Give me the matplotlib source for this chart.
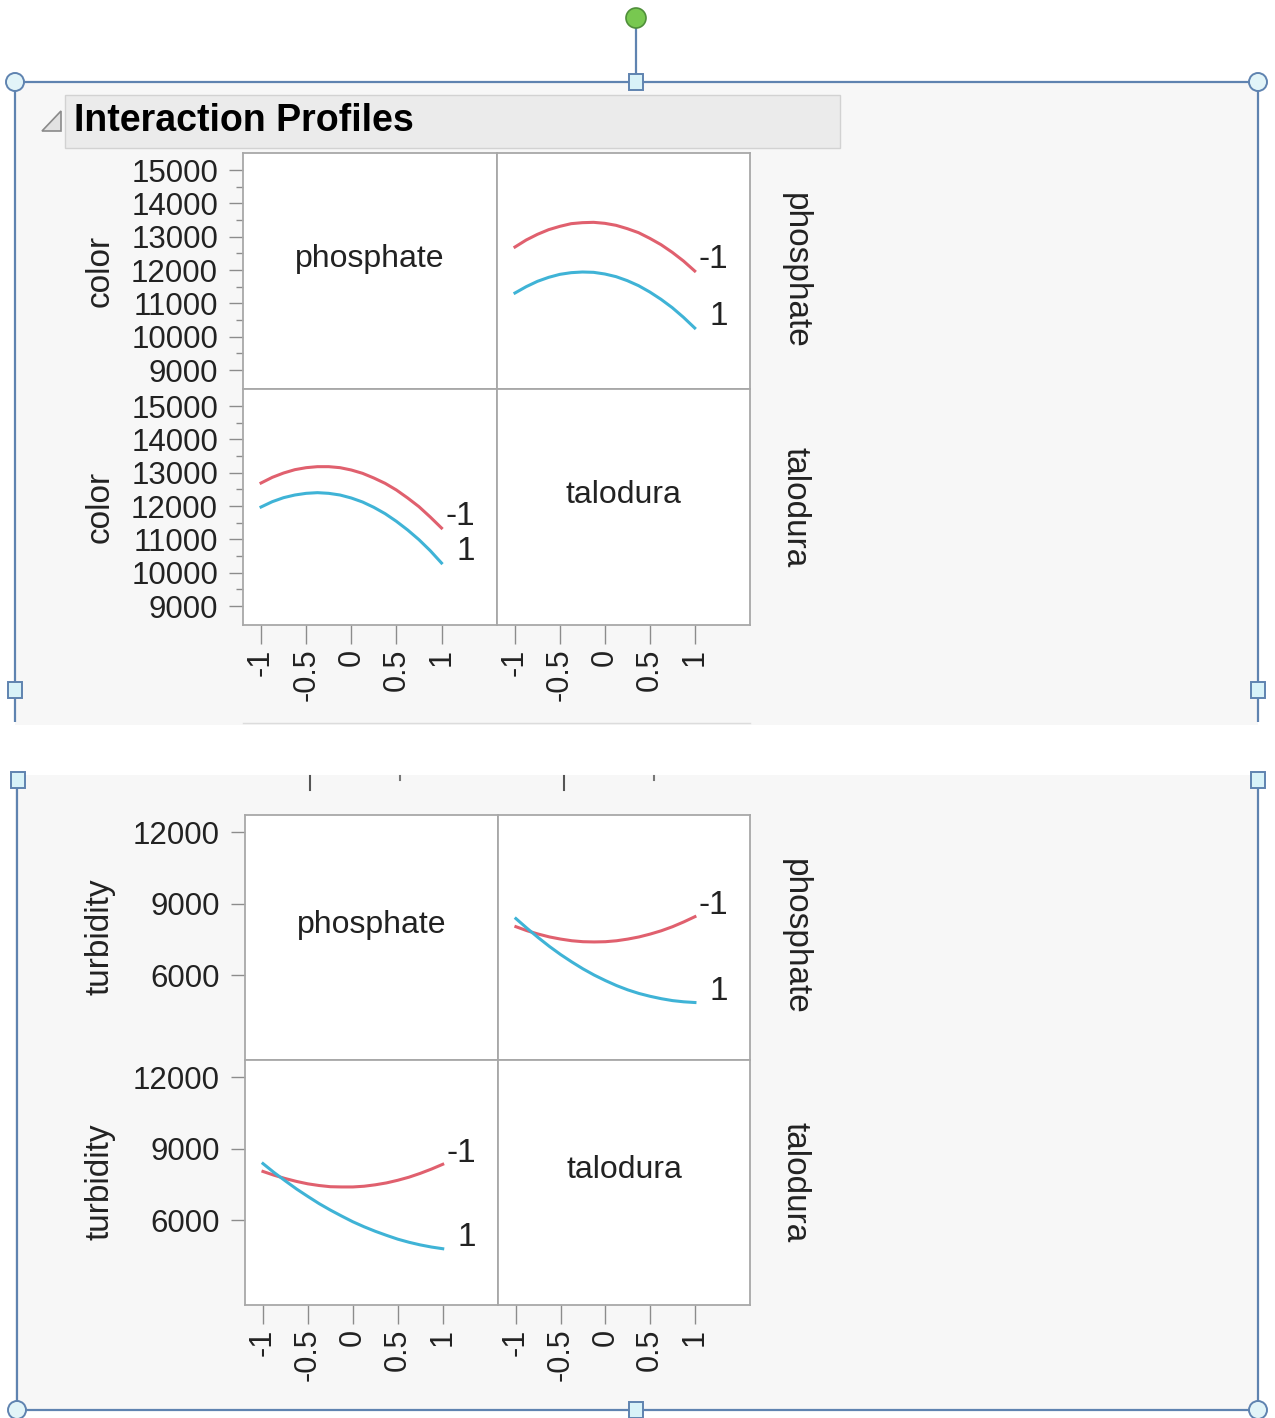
import matplotlib.pyplot as plt
import matplotlib.patches as mpatches
import numpy as np

W, H = 1275, 1418

# factor levels along each x axis (read every 1/8)
levels = [-1, -0.875, -0.75, -0.625, -0.5, -0.375, -0.25, -0.125, 0,
          0.125, 0.25, 0.375, 0.5, 0.625, 0.75, 0.875, 1]

# color response
color_vs_talodura_phos_neg = [12690, 12900, 13070, 13210, 13310, 13390, 13420, 13430, 13400,
                              13340, 13240, 13120, 12950, 12760, 12530, 12270, 11970]
color_vs_talodura_phos_pos = [11310, 11500, 11660, 11780, 11870, 11920, 11940, 11930, 11880,
                              11800, 11680, 11530, 11340, 11120, 10870, 10580, 10260]
color_vs_phos_talo_neg = [12690, 12860, 12990, 13090, 13150, 13180, 13180, 13150, 13080,
                          12980, 12840, 12680, 12480, 12240, 11980, 11670, 11340]
color_vs_phos_talo_pos = [11970, 12130, 12250, 12330, 12380, 12400, 12380, 12330, 12240,
                          12120, 11960, 11770, 11540, 11280, 10990, 10660, 10290]

# turbidity response
turb_vs_talodura_phos_neg = [8030, 7860, 7720, 7600, 7510, 7440, 7400, 7390, 7400,
                             7440, 7510, 7600, 7720, 7860, 8030, 8230, 8450]
turb_vs_talodura_phos_pos = [8370, 7960, 7570, 7200, 6860, 6550, 6260, 6000, 5770,
                             5560, 5380, 5230, 5110, 5010, 4930, 4880, 4850]
turb_vs_phos_talo_neg = [8040, 7880, 7740, 7620, 7520, 7450, 7400, 7390, 7390,
                         7420, 7480, 7560, 7670, 7800, 7960, 8140, 8340]
turb_vs_phos_talo_pos = [8370, 7990, 7640, 7300, 6990, 6690, 6420, 6170, 5930,
                         5720, 5530, 5360, 5200, 5070, 4960, 4870, 4800]

x_ticks = [-1, -0.5, 0, 0.5, 1]
x_tick_labels = ['-1', '-0.5', '0', '0.5', '1']
color_ticks = [9000, 10000, 11000, 12000, 13000, 14000, 15000]
turb_ticks = [6000, 9000, 12000]
curve_labels = ['-1', '1']

RED = '#e0606e'
BLUE = '#3fb3d6'
FONT = ['Liberation Sans', 'DejaVu Sans']
TXT = '#222222'
FRAME = '#5f83b0'

fig = plt.figure(figsize=(W / 100, H / 100), dpi=100)
fig.patch.set_facecolor('white')

# background layer in pixel coordinates
bg = fig.add_axes([0, 0, 1, 1])
bg.set_xlim(0, W)
bg.set_ylim(H, 0)
bg.axis('off')

bg.add_patch(mpatches.Rectangle((15, 82), 1243, 643, fc='#f7f7f7', ec='none'))
bg.add_patch(mpatches.Rectangle((15, 775), 1243, 635, fc='#f7f7f7', ec='none'))
# title bar
bg.add_patch(mpatches.Rectangle((65, 95), 775, 53, fc='#ebebeb', ec='#d2d2d2', lw=1))
bg.text(74, 121, 'Interaction Profiles', fontsize=27, fontweight='bold',
        family=FONT, color='black', va='center', ha='left')
bg.add_patch(mpatches.Polygon([(42, 131), (61, 111), (61, 131)], closed=True,
                              fc='#e2e2e2', ec='#8a8a8a', lw=1.2))

# selection frame
for xs, ys in [([15, 1258], [82, 82]), ([15, 15], [82, 722]), ([1258, 1258], [82, 722]),
               ([17, 17], [778, 1410]), ([1258, 1258], [778, 1410]), ([17, 1258], [1410, 1410]),
               ([636, 636], [26, 82])]:
    bg.plot(xs, ys, color=FRAME, lw=1.6, solid_capstyle='butt')
for cx, cy in [(15, 82), (1258, 82), (17, 1410), (1258, 1410)]:
    bg.add_patch(mpatches.Circle((cx, cy), 9, fc='#e2f4f8', ec=FRAME, lw=1.4, zorder=5))
for cx, cy in [(636, 82), (15, 690), (1258, 690), (18, 780), (1258, 780), (636, 1410)]:
    bg.add_patch(mpatches.Rectangle((cx - 7, cy - 8), 14, 16, fc='#d8f2f8', ec=FRAME, lw=1.4, zorder=5))
bg.add_patch(mpatches.Circle((636, 18), 10, fc='#78c850', ec='#4f8f3a', lw=1.2, zorder=5))

# cut-off remnants between the two screenshots
bg.plot([243, 750], [723, 723], color='#dcdcdc', lw=1)
for x0 in [310, 564]:
    bg.plot([x0, x0], [776, 790], color='#555555', lw=1.5)
for x0 in [400, 654]:
    bg.plot([x0, x0], [776, 780], color='#777777', lw=1.5)


def cell(x0, y0, x1, y1):
    ax = fig.add_axes([x0 / W, 1 - y1 / H, (x1 - x0) / W, (y1 - y0) / H])
    ax.set_facecolor('white')
    for s in ax.spines.values():
        s.set_color('#a8a8a8')
        s.set_linewidth(1.3)
    ax.set_xlim(-1.2, 1.615)
    ax.set_xticks([])
    ax.set_yticks([])
    return ax


def style_y(ax, ticks, minor):
    ax.set_yticks(ticks, labels=[str(t) for t in ticks], fontsize=22.5,
                  family=FONT, color=TXT)
    if minor:
        ax.set_yticks(np.array(ticks[:-1]) + 500, minor=True)
    ax.tick_params(axis='y', which='major', direction='out', length=10, width=1,
                   color='#8c8c8c', pad=8)
    ax.tick_params(axis='y', which='minor', direction='out', length=5, width=1,
                   color='#8c8c8c')


def style_x(ax):
    ax.set_xticks(x_ticks, labels=x_tick_labels, rotation=90, fontsize=22,
                  family=FONT, color=TXT, va='top', ha='center')
    ax.tick_params(axis='x', direction='out', length=14, width=1,
                   color='#8c8c8c', pad=3)


def curves(ax, y_neg, y_pos):
    ax.plot(levels, y_neg, color=RED, lw=2.2)
    ax.plot(levels, y_pos, color=BLUE, lw=2.2)
    for ys, lab in zip([y_neg, y_pos], curve_labels):
        ax.annotate(lab, xy=(levels[-1], ys[-1]), xytext=(24, 8),
                    textcoords='offset points', ha='right', va='center',
                    fontsize=24, family=FONT, color=TXT)


def name(ax, text):
    ax.text(0.5, 0.55, text, transform=ax.transAxes, ha='center', va='center',
            fontsize=23, family=FONT, color=TXT)


# ---- color block ----
c_lim = (8430, 15510)
a11 = cell(243, 153, 497, 389)
a12 = cell(497, 153, 750, 389)
a21 = cell(243, 389, 497, 625)
a22 = cell(497, 389, 750, 625)
for a in (a11, a12, a21, a22):
    a.set_ylim(*c_lim)
style_y(a11, color_ticks, True)
style_y(a21, color_ticks, True)
style_x(a21)
style_x(a22)
name(a11, 'phosphate')
name(a22, 'talodura')
curves(a12, color_vs_talodura_phos_neg, color_vs_talodura_phos_pos)
curves(a21, color_vs_phos_talo_neg, color_vs_phos_talo_pos)

# ---- turbidity block ----
t_lim = (2440, 12713)
b11 = cell(245, 815, 498, 1060)
b12 = cell(498, 815, 750, 1060)
b21 = cell(245, 1060, 498, 1305)
b22 = cell(498, 1060, 750, 1305)
for b in (b11, b12, b21, b22):
    b.set_ylim(*t_lim)
style_y(b11, turb_ticks, False)
style_y(b21, turb_ticks, False)
style_x(b21)
style_x(b22)
name(b11, 'phosphate')
name(b22, 'talodura')
curves(b12, turb_vs_talodura_phos_neg, turb_vs_talodura_phos_pos)
curves(b21, turb_vs_phos_talo_neg, turb_vs_phos_talo_pos)

# row / column labels
for yc, lab in [(271, 'color'), (507, 'color'), (937, 'turbidity'), (1182, 'turbidity')]:
    fig.text(100 / W, 1 - yc / H, lab, rotation=90, ha='center', va='center',
             fontsize=24, family=FONT, color=TXT)
for yc, lab in [(271, 'phosphate'), (507, 'talodura'), (937, 'phosphate'), (1182, 'talodura')]:
    fig.text(795 / W, 1 - yc / H, lab, rotation=-90, ha='center', va='center',
             fontsize=24, family=FONT, color=TXT)

plt.savefig('out.png', dpi=100)
